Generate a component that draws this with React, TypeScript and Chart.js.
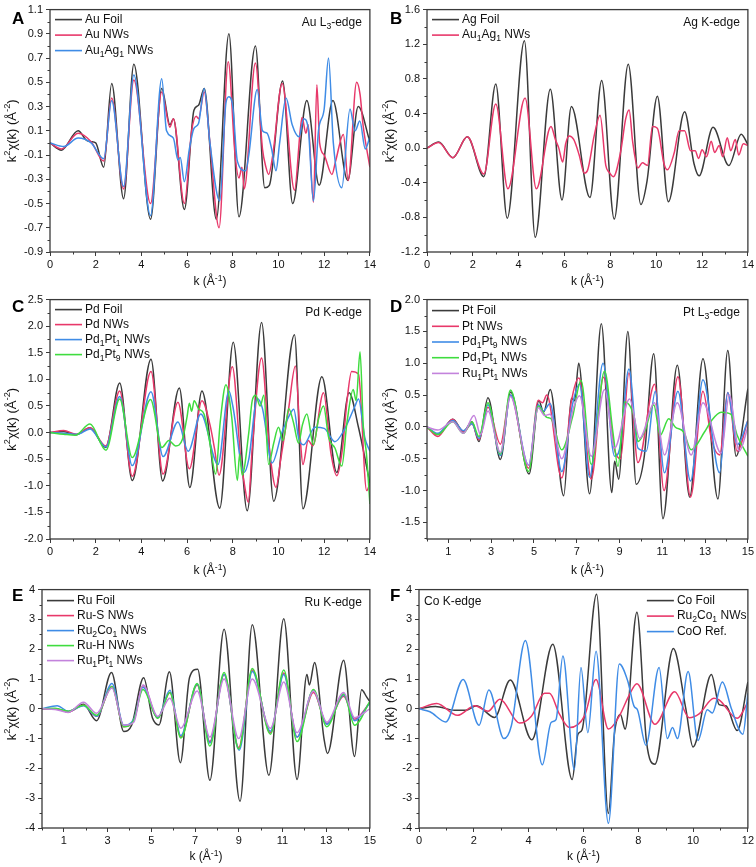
import React, { useEffect, useRef } from "react";
import { Chart, registerables } from "chart.js";
Chart.register(...registerables);

type P = [number, number];

// ---------------- DATA (k in 1/Å, k²χ(k) in Å⁻²) ----------------
// Panel A – Au L3-edge
const auFoilA: P[] = [[0,0],[0.5,-0.06],[1.23,0.10],[1.6,0.02],[1.8,0.01],[2.0,0.0],[2.35,-0.20],[2.7,0.49],[3.22,-0.46],[3.67,0.65],[4.4,-0.63],[4.89,0.45],[5.25,0.15],[5.4,0.20],[5.88,-0.55],[6.3,0.27],[6.5,0.31],[6.75,0.45],[7.28,-0.63],[7.83,0.90],[8.27,-0.61],[8.99,0.80],[9.4,-0.37],[9.6,-0.35],[10.18,0.51],[10.62,-0.50],[11.24,0.35],[11.78,-0.35],[12.38,0.35],[13.03,-0.31],[13.49,0.30],[14.0,0.01]];
const auNwA: P[] = [[0,0],[0.5,-0.05],[1.23,0.08],[1.8,0.01],[2.35,-0.15],[2.7,0.37],[3.22,-0.38],[3.67,0.52],[4.4,-0.50],[4.89,0.42],[5.25,0.13],[5.4,0.20],[5.88,-0.50],[6.2,0.10],[6.4,0.22],[6.5,0.20],[6.75,0.42],[7.0,0.0],[7.4,-0.70],[7.8,0.67],[8.1,-0.10],[8.27,-0.29],[8.4,-0.20],[8.5,-0.38],[8.99,0.66],[9.3,-0.05],[9.45,-0.20],[9.57,-0.26],[9.75,-0.10],[10.16,0.49],[10.7,-0.39],[10.95,0.10],[11.03,0.21],[11.2,0.08],[11.3,0.15],[11.53,-0.49],[11.68,0.48],[11.8,0.0],[12.0,-0.10],[12.34,-0.26],[12.5,-0.15],[12.84,0.07],[13.05,-0.31],[13.42,0.50],[13.57,0.40],[13.7,0.15],[14.0,-0.20]];
const auAgA: P[] = [[0,0],[0.6,-0.03],[1.23,0.04],[1.8,0.0],[2.35,-0.13],[2.7,0.35],[3.22,-0.36],[3.67,0.56],[4.4,-0.60],[4.89,0.53],[5.1,0.10],[5.4,0.04],[5.6,-0.14],[5.7,-0.12],[5.88,-0.32],[6.1,-0.05],[6.3,0.12],[6.5,0.16],[6.75,0.45],[7.0,0.0],[7.43,-0.48],[7.7,0.33],[7.83,0.38],[8.0,0.30],[8.2,-0.15],[8.56,-0.23],[8.7,-0.10],[9.07,0.44],[9.3,0.10],[9.5,0.08],[9.7,-0.05],[9.89,-0.23],[10.05,0.0],[10.33,0.37],[10.6,0.15],[10.9,0.05],[11.1,0.20],[11.3,0.12],[11.53,-0.48],[11.75,0.10],[12.0,0.28],[12.19,0.70],[12.4,0.0],[12.77,-0.37],[13.13,0.28],[13.35,0.10],[13.56,0.18],[13.8,-0.05],[14.0,0.05]];

// Panel B – Ag K-edge
const agFoilB: P[] = [[0,0],[0.51,0.07],[1.13,-0.11],[1.76,0.13],[2.48,-0.33],[3.0,0.74],[3.5,-0.81],[4.25,1.24],[4.72,-1.03],[5.38,0.68],[5.89,-0.60],[6.3,0.48],[7.11,-0.57],[7.62,0.78],[8.17,-0.82],[8.78,0.97],[9.33,-0.65],[9.6,-0.38],[10.05,0.60],[10.53,-0.62],[11.24,0.42],[11.65,-0.18],[11.87,-0.32],[12.48,0.24],[13.17,-0.20],[13.71,0.16],[14.0,0.04]];
const agNwB: P[] = [[0,0],[0.51,0.065],[1.13,-0.11],[1.76,0.13],[2.48,-0.30],[3.0,0.51],[3.53,-0.47],[4.28,0.58],[4.77,-0.47],[5.41,0.25],[5.6,0.10],[5.75,0.0],[5.92,-0.16],[6.05,0.05],[6.2,0.14],[6.4,0.10],[6.64,-0.08],[6.86,-0.29],[7.0,-0.26],[7.3,0.15],[7.55,0.38],[7.8,-0.20],[7.95,-0.28],[8.13,-0.33],[8.45,-0.04],[8.67,0.34],[8.82,0.44],[8.97,0.08],[9.2,-0.23],[9.4,-0.17],[9.62,-0.20],[9.84,0.25],[10.05,0.23],[10.34,-0.18],[10.49,-0.25],[10.78,-0.06],[11.0,0.20],[11.24,0.20],[11.5,-0.03],[11.7,-0.03],[11.85,-0.12],[12.0,-0.02],[12.2,-0.10],[12.4,0.08],[12.55,-0.05],[12.75,0.03],[12.9,-0.10],[13.1,0.12],[13.25,-0.03],[13.45,0.10],[13.6,-0.08],[13.8,0.05],[14.0,0.03]];

// Panel C – Pd K-edge
const pdFoilC: P[] = [[0,0],[0.6,0.02],[1.15,-0.04],[1.75,0.09],[2.44,-0.28],[3.05,0.93],[3.6,-0.90],[4.42,1.38],[4.93,-0.91],[5.66,0.84],[6.12,-1.03],[6.65,0.78],[7.43,-1.42],[8.02,1.70],[8.63,-1.47],[9.26,2.07],[9.79,-1.29],[10.70,1.84],[11.07,-1.43],[11.9,1.05],[12.55,-0.75],[13.09,0.75],[13.5,0.10],[14.0,-0.95]];
const pdNwC: P[] = [[0,0],[0.6,0.04],[1.15,-0.03],[1.75,0.09],[2.44,-0.25],[3.05,0.78],[3.6,-0.82],[4.42,1.15],[4.95,-0.78],[5.6,0.57],[6.1,-0.68],[6.65,0.60],[7.0,0.15],[7.2,-0.30],[7.4,-0.80],[7.98,1.24],[8.35,-0.50],[8.5,-0.95],[8.68,-1.31],[8.85,-0.30],[9.26,1.40],[9.6,-0.30],[9.89,-1.03],[10.1,-0.50],[10.44,0.44],[10.74,1.25],[10.95,-0.10],[11.07,-0.60],[11.3,-0.15],[11.5,-0.25],[11.97,0.75],[12.3,-0.40],[12.55,-0.81],[12.8,-0.30],[13.0,0.60],[13.2,1.15],[13.5,1.10],[13.86,-1.09],[14.0,-0.95]];
const pdPt1C: P[] = [[0,0],[0.6,-0.01],[1.2,-0.03],[1.75,0.07],[2.45,-0.27],[3.05,0.68],[3.6,-0.62],[4.42,0.77],[4.95,-0.45],[5.6,0.20],[6.05,-0.35],[6.6,0.35],[7.35,-0.60],[7.83,0.78],[8.0,0.50],[8.49,-0.75],[8.7,-0.50],[9.07,0.64],[9.3,0.45],[9.72,-0.57],[10.15,0.0],[10.45,0.30],[10.67,0.44],[10.88,-0.10],[11.1,-0.23],[11.6,0.10],[12.0,0.08],[12.47,-0.17],[12.9,0.07],[13.35,0.50],[13.5,0.63],[13.78,-0.10],[14.0,-0.35]];
const pdPt9C: P[] = [[0,0],[0.6,-0.03],[1.1,-0.05],[1.75,0.16],[2.45,-0.33],[3.05,0.63],[3.6,-0.47],[4.4,0.62],[4.9,-0.28],[5.2,-0.15],[5.5,-0.25],[5.8,-0.12],[6.0,0.30],[6.1,0.55],[6.2,0.40],[6.31,0.60],[6.5,0.45],[6.74,0.35],[7.0,-0.20],[7.25,-0.78],[7.45,0.20],[7.7,0.90],[7.95,0.30],[8.2,-0.90],[8.3,-0.40],[8.41,-0.80],[8.7,0.0],[8.85,0.60],[9.0,0.70],[9.2,0.50],[9.36,0.70],[9.57,-0.60],[9.79,-0.20],[10.0,0.10],[10.2,-0.15],[10.45,0.45],[10.65,0.20],[10.88,-0.20],[11.05,0.15],[11.24,0.35],[11.53,-0.23],[11.75,0.25],[11.97,0.50],[12.2,-0.10],[12.47,-0.29],[12.77,-0.63],[13.0,0.20],[13.27,0.81],[13.4,0.60],[13.57,1.52],[13.71,0.13],[13.85,-0.40],[14.0,-1.34]];

// Panel D – Pt L3-edge
const ptFoilD: P[] = [[0,0],[0.5,-0.12],[1.21,0.12],[1.7,-0.07],[2.1,0.08],[2.43,-0.23],[2.85,0.46],[3.43,-0.51],[3.91,0.55],[4.77,-0.74],[5.23,0.41],[5.45,0.23],[5.76,0.59],[6.39,-1.08],[6.75,0.45],[6.9,0.41],[7.09,1.0],[7.6,-1.05],[8.15,1.62],[8.64,-1.03],[8.77,-0.54],[8.96,-0.82],[9.39,1.50],[9.78,-0.90],[10.15,-0.48],[10.6,1.15],[11.03,-1.44],[11.7,0.97],[12.28,-1.10],[12.9,1.07],[13.6,-1.13],[14.06,1.20],[14.45,-0.46],[15.0,0.60]];
const ptNwD: P[] = [[0,0],[0.5,-0.15],[1.2,0.12],[1.7,-0.08],[2.1,0.05],[2.43,-0.20],[2.85,0.31],[3.43,-0.27],[3.9,0.50],[4.75,-0.65],[5.2,0.42],[5.4,0.38],[5.6,0.50],[6.3,-0.80],[6.75,0.40],[7.1,0.77],[7.68,-0.82],[8.25,0.78],[8.77,-0.36],[9.05,-0.50],[9.44,0.85],[9.86,-0.56],[10.64,0.67],[11.08,-1.0],[11.73,0.79],[12.32,-1.10],[12.9,0.56],[13.3,-0.20],[13.68,-0.44],[14.06,0.54],[14.5,-0.38],[15.0,0.10]];
const ptPd9D: P[] = [[0,0],[0.5,-0.10],[1.2,0.10],[1.7,-0.06],[2.1,0.05],[2.43,-0.18],[2.85,0.35],[3.43,-0.45],[3.91,0.50],[4.75,-0.60],[5.2,0.35],[5.45,0.25],[5.75,0.37],[6.3,-0.70],[6.8,0.35],[7.13,0.67],[7.6,-0.79],[8.23,1.0],[8.77,-0.46],[9.0,-0.35],[9.44,0.91],[9.86,-0.33],[10.25,-0.38],[10.67,0.56],[11.1,-0.72],[11.73,0.56],[12.32,-0.85],[12.9,0.74],[13.68,-0.72],[14.06,0.54],[14.5,-0.28],[15.0,0.10]];
const ptPd1D: P[] = [[0,0],[0.5,-0.12],[1.2,0.08],[1.7,-0.10],[2.1,0.08],[2.43,-0.15],[2.85,0.38],[3.43,-0.43],[3.9,0.58],[4.75,-0.70],[5.2,0.33],[5.6,0.15],[5.8,0.13],[6.3,-0.36],[6.8,0.15],[7.2,0.73],[7.68,-0.59],[8.3,0.88],[8.69,-0.08],[8.93,-0.62],[9.24,0.39],[9.7,0.13],[9.86,-0.23],[10.2,-0.05],[10.6,0.35],[10.9,-0.13],[11.3,0.13],[11.6,0.0],[12.0,-0.08],[12.35,-0.36],[12.97,-0.08],[13.3,0.10],[13.75,0.23],[14.2,0.20],[14.5,-0.13],[15.0,-0.46]];
const ptRuD: P[] = [[0,0],[0.5,-0.05],[1.2,0.08],[1.7,-0.10],[2.2,0.18],[2.5,-0.12],[2.85,0.25],[3.43,-0.40],[3.9,0.48],[4.75,-0.60],[5.2,0.30],[5.5,0.18],[5.75,0.20],[6.3,-0.50],[6.85,0.30],[7.13,0.49],[7.68,-0.46],[8.3,0.59],[8.77,-0.33],[9.47,0.44],[9.94,-0.18],[10.64,0.38],[11.1,-0.44],[11.7,0.38],[12.35,-0.44],[12.9,0.38],[13.75,-0.41],[14.13,0.50],[14.6,-0.38],[15.0,0.0]];

// Panel E – Ru K-edge
const ruFoilE: P[] = [[0,0],[0.6,0.0],[1.2,-0.10],[1.9,0.15],[2.5,-0.40],[3.18,1.22],[3.74,-0.76],[4.1,-0.55],[4.65,1.04],[5.05,-0.30],[5.35,-0.54],[5.83,1.24],[6.33,-1.81],[6.75,1.05],[7.12,1.33],[7.68,-2.40],[8.33,2.67],[9.06,-3.10],[9.62,2.82],[10.38,-2.23],[11.06,3.02],[11.67,-2.37],[12.12,1.15],[12.23,0.80],[12.47,1.55],[12.9,-1.0],[13.06,-1.50],[13.8,1.63],[14.3,-1.60],[14.62,0.64],[14.85,0.40],[15.0,0.24]];
const ruSE: P[] = [[0,0],[0.6,0.0],[1.2,-0.10],[1.9,0.12],[2.5,-0.25],[3.2,0.75],[3.74,-0.60],[4.2,-0.40],[4.62,0.78],[5.3,-0.30],[5.85,0.55],[6.35,-0.95],[7.1,0.80],[7.68,-1.10],[8.33,1.15],[9.0,-1.30],[9.62,1.30],[10.45,-0.80],[11.06,1.20],[11.67,-0.95],[12.42,0.55],[13.03,-0.50],[13.8,0.42],[14.3,-0.35],[15.0,0.20]];
const ruCoE: P[] = [[0,0],[0.7,0.10],[1.2,-0.08],[1.9,0.10],[2.5,-0.25],[3.2,0.85],[3.74,-0.55],[4.2,-0.35],[4.62,0.72],[5.3,-0.30],[5.85,0.62],[6.35,-0.90],[7.1,0.82],[7.68,-1.15],[8.33,1.15],[9.02,-1.39],[9.62,1.25],[10.45,-0.75],[11.06,1.15],[11.67,-0.95],[12.42,0.62],[13.03,-0.52],[13.8,0.46],[14.3,-0.40],[15.0,0.20]];
const ruHE: P[] = [[0,0],[0.6,0.02],[1.2,-0.08],[1.9,0.12],[2.5,-0.22],[3.2,0.75],[3.74,-0.60],[4.2,-0.38],[4.62,0.65],[5.3,-0.32],[5.85,0.55],[6.35,-0.98],[7.1,0.85],[7.68,-1.25],[8.33,1.22],[9.0,-1.35],[9.62,1.35],[10.45,-0.85],[11.06,1.30],[11.67,-1.10],[12.42,0.65],[13.03,-0.60],[13.8,0.50],[14.3,-0.55],[15.0,0.25]];
const ruPtE: P[] = [[0,0],[0.6,-0.02],[1.2,-0.12],[1.9,0.22],[2.5,-0.15],[3.2,0.70],[3.74,-0.55],[4.2,-0.45],[4.62,0.80],[5.3,-0.25],[5.85,0.35],[6.35,-0.65],[7.1,0.60],[7.68,-0.95],[8.33,1.0],[9.0,-1.0],[9.62,1.0],[10.45,-0.65],[11.06,0.90],[11.67,-0.80],[12.42,0.60],[13.03,-0.45],[13.8,0.55],[14.3,-0.30],[15.0,0.0]];

// Panel F – Co K-edge
const coFoilF: P[] = [[0,0],[0.6,0.08],[1.3,-0.05],[1.7,-0.05],[2.1,0.10],[2.76,-0.29],[3.33,0.97],[4.12,-1.04],[4.88,2.17],[5.59,-2.37],[5.8,-0.85],[5.95,-0.70],[6.48,3.84],[6.91,-3.51],[7.13,-0.84],[7.35,-0.19],[7.52,-0.68],[7.95,3.24],[8.3,-1.10],[8.61,-1.86],[9.28,2.02],[9.73,0.03],[10.0,-1.28],[10.67,1.15],[10.95,0.14],[11.2,0.10],[11.61,-0.73],[12.0,0.90]];
const coRuF: P[] = [[0,0],[0.65,0.18],[1.4,-0.22],[2.04,0.10],[2.52,-0.08],[2.95,0.32],[3.67,-0.48],[4.1,-0.25],[4.58,0.52],[4.76,0.52],[5.13,-0.19],[5.5,-0.63],[6.04,-0.24],[6.46,0.98],[6.91,-0.68],[7.31,-0.24],[7.67,0.46],[7.95,0.84],[8.61,-0.52],[9.33,0.57],[9.86,-0.30],[10.22,-0.17],[10.76,0.35],[10.95,0.30],[11.61,-0.32],[12.0,0.22]];
const coORef: P[] = [[0,0],[0.4,-0.10],[0.98,-0.44],[1.61,0.98],[2.19,-0.55],[2.55,0.63],[3.1,-1.0],[3.37,-0.57],[3.88,2.29],[4.5,-1.88],[4.82,-0.46],[5.0,-0.36],[5.25,1.77],[5.67,-2.04],[5.91,1.39],[6.16,-0.80],[6.46,1.93],[6.91,-3.84],[7.31,1.50],[7.61,0.95],[7.85,0.08],[7.97,-0.03],[8.28,-1.22],[8.76,1.39],[9.06,-1.0],[9.25,-0.63],[9.43,-1.0],[9.82,1.25],[10.18,-1.06],[10.52,-0.03],[10.7,-0.14],[11.07,0.90],[11.4,0.0],[11.82,-0.85],[12.0,0.52]];

// Tick values
const yTicksA = [-0.9, -0.7, -0.5, -0.3, -0.1, 0.1, 0.3, 0.5, 0.7, 0.9, 1.1];
const yTicksB = [-1.2, -0.8, -0.4, 0.0, 0.4, 0.8, 1.2, 1.6];
const yTicksC = [-2.0, -1.5, -1.0, -0.5, 0.0, 0.5, 1.0, 1.5, 2.0, 2.5];
const yTicksD = [-1.5, -1.0, -0.5, 0.0, 0.5, 1.0, 1.5, 2.0];
const yTicksEF = [-4, -3, -2, -1, 0, 1, 2, 3, 4];
const xTicks14 = [0, 2, 4, 6, 8, 10, 12, 14];
const xTicks15 = [1, 3, 5, 7, 9, 11, 13, 15];
const xTicks12 = [0, 2, 4, 6, 8, 10, 12];

// Labels
const labelsA = ["Au Foil", "Au NWs", "Au_{1}Ag_{1} NWs"];
const labelsB = ["Ag Foil", "Au_{1}Ag_{1} NWs"];
const labelsC = ["Pd Foil", "Pd NWs", "Pd_{1}Pt_{1} NWs", "Pd_{1}Pt_{9} NWs"];
const labelsD = ["Pt Foil", "Pt NWs", "Pd_{1}Pt_{9} NWs", "Pd_{1}Pt_{1} NWs", "Ru_{1}Pt_{1} NWs"];
const labelsE = ["Ru Foil", "Ru-S NWs", "Ru_{2}Co_{1} NWs", "Ru-H NWs", "Ru_{1}Pt_{1} NWs"];
const labelsF = ["Co Foil", "Ru_{2}Co_{1} NWs", "CoO Ref."];
const X_TITLE = "k (Å^{-1})";
const Y_TITLE = "k^{2}χ(k) (Å^{-2})";

// ---------------- STYLE ----------------
const FONT = '"Liberation Sans", Arial, Helvetica, sans-serif';
const DARK = "#3b3b3b";
const RED = "#e8386a";
const BLUE = "#3f8ce6";
const GREEN = "#3fdc3f";
const VIOLET = "#c383dc";
const AXIS = "#3a3a3a";

interface PanelCfg {
  letter: string;
  letterY: number;
  edge: string;
  edgeLeft?: boolean;
  legendRight?: boolean;
  legendDy: number;
  legendStep: number;
  labels: string[];
  colors: string[];
  series: P[][];
  xMax: number;
  xTicks: number[];
  yMin: number;
  yMax: number;
  yTicks: number[];
  yDec: number;
  w: number;
  h: number;
  left: number;
  right: number;
  top: number;
  bottomH: number;
  xTitleY: number;
}

const stripMarkup = (s: string) => s.replace(/[_^]\{([^}]*)\}/g, "$1");

function richParts(s: string) {
  const parts: { t: string; k: number }[] = [];
  const re = /([_^])\{([^}]*)\}/g;
  let last = 0;
  let m: RegExpExecArray | null;
  while ((m = re.exec(s))) {
    if (m.index > last) parts.push({ t: s.slice(last, m.index), k: 0 });
    parts.push({ t: m[2], k: m[1] === "_" ? 1 : -1 });
    last = re.lastIndex;
  }
  if (last < s.length) parts.push({ t: s.slice(last), k: 0 });
  return parts;
}

function drawRich(ctx: CanvasRenderingContext2D, s: string, x: number, y: number, size: number, align: "left" | "right" | "center") {
  const parts = richParts(s);
  const f = (sz: number) => `${sz}px ${FONT}`;
  let w = 0;
  parts.forEach((p) => {
    ctx.font = f(p.k ? size * 0.72 : size);
    w += ctx.measureText(p.t).width;
  });
  let cx = align === "right" ? x - w : align === "center" ? x - w / 2 : x;
  ctx.textAlign = "left";
  ctx.textBaseline = "middle";
  parts.forEach((p) => {
    const sz = p.k ? size * 0.72 : size;
    ctx.font = f(sz);
    ctx.fillText(p.t, cx, y + p.k * size * 0.32);
    cx += ctx.measureText(p.t).width;
  });
}

function minorBetween(ticks: number[], lo: number, hi: number) {
  const out: number[] = [];
  const step = ticks[1] - ticks[0];
  for (let v = ticks[0] - step / 2; v <= hi + 1e-9; v += step) {
    if (v >= lo - 1e-9 && !ticks.some((t) => Math.abs(t - v) < 1e-9)) out.push(v);
  }
  return out;
}

function makeDeco(cfg: PanelCfg) {
  return {
    id: "deco" + cfg.letter,
    afterDraw(chart: any) {
      const { ctx, chartArea: a } = chart;
      const xs = chart.scales.x;
      const ys = chart.scales.y;
      ctx.save();
      ctx.strokeStyle = AXIS;
      ctx.lineWidth = 1.3;
      ctx.strokeRect(a.left, a.top, a.right - a.left, a.bottom - a.top);
      ctx.lineWidth = 1;
      ctx.beginPath();
      minorBetween(cfg.xTicks, 0, cfg.xMax).forEach((v) => {
        const px = Math.round(xs.getPixelForValue(v)) + 0.5;
        ctx.moveTo(px, a.bottom);
        ctx.lineTo(px, a.bottom + 2.5);
      });
      minorBetween(cfg.yTicks, cfg.yMin, cfg.yMax).forEach((v) => {
        const py = Math.round(ys.getPixelForValue(v)) + 0.5;
        ctx.moveTo(a.left, py);
        ctx.lineTo(a.left - 2.5, py);
      });
      ctx.stroke();
      // axis titles
      ctx.fillStyle = "#111";
      drawRich(ctx, X_TITLE, (a.left + a.right) / 2, cfg.xTitleY, 12, "center");
      ctx.save();
      ctx.translate(12, (a.top + a.bottom) / 2);
      ctx.rotate(-Math.PI / 2);
      drawRich(ctx, Y_TITLE, 0, 0, 13, "center");
      ctx.restore();
      // panel letter
      ctx.fillStyle = "#000";
      ctx.font = `bold 17px ${FONT}`;
      ctx.textAlign = "left";
      ctx.textBaseline = "middle";
      ctx.fillText(cfg.letter, 12, cfg.letterY);
      // edge label
      ctx.fillStyle = "#111";
      if (cfg.edgeLeft) drawRich(ctx, cfg.edge, a.left + 5, a.top + 12, 12, "left");
      else drawRich(ctx, cfg.edge, a.right - 8, a.top + 13, 12, "right");
      // legend
      const lx = cfg.legendRight ? a.right - 101 : a.left + 5;
      cfg.labels.forEach((lab, i) => {
        const y = a.top + cfg.legendDy + i * cfg.legendStep;
        ctx.strokeStyle = cfg.colors[i];
        ctx.lineWidth = 1.6;
        ctx.beginPath();
        ctx.moveTo(lx, y);
        ctx.lineTo(lx + 27, y);
        ctx.stroke();
        ctx.fillStyle = "#111";
        drawRich(ctx, lab, lx + 30, y, 12, "left");
      });
      ctx.restore();
    },
  };
}

const W = 378;
const panels: PanelCfg[] = [
  {
    letter: "A", letterY: 19, edge: "Au L_{3}-edge", legendDy: 10, legendStep: 15.5,
    labels: labelsA, colors: [DARK, RED, BLUE], series: [auFoilA, auNwA, auAgA],
    xMax: 14, xTicks: xTicks14, yMin: -0.9, yMax: 1.1, yTicks: yTicksA, yDec: 1,
    w: W, h: 290, left: 50, right: 372, top: 7, bottomH: 38, xTitleY: 282,
  },
  {
    letter: "B", letterY: 19, edge: "Ag K-edge", legendDy: 10, legendStep: 15.5,
    labels: labelsB, colors: [DARK, RED], series: [agFoilB, agNwB],
    xMax: 14, xTicks: xTicks14, yMin: -1.2, yMax: 1.6, yTicks: yTicksB, yDec: 1,
    w: W, h: 290, left: 49, right: 371, top: 7, bottomH: 38, xTitleY: 282,
  },
  {
    letter: "C", letterY: 17, edge: "Pd K-edge", legendDy: 10, legendStep: 15,
    labels: labelsC, colors: [DARK, RED, BLUE, GREEN], series: [pdFoilC, pdNwC, pdPt1C, pdPt9C],
    xMax: 14, xTicks: xTicks14, yMin: -2.0, yMax: 2.5, yTicks: yTicksC, yDec: 1,
    w: W, h: 290, left: 50, right: 372, top: 5, bottomH: 41, xTitleY: 281,
  },
  {
    letter: "D", letterY: 17, edge: "Pt L_{3}-edge", legendDy: 11, legendStep: 15.7,
    labels: labelsD, colors: [DARK, RED, BLUE, GREEN, VIOLET], series: [ptFoilD, ptNwD, ptPd9D, ptPd1D, ptRuD],
    xMax: 15, xTicks: xTicks15, yMin: -1.76, yMax: 2.0, yTicks: yTicksD, yDec: 1,
    w: W, h: 290, left: 49, right: 370, top: 5, bottomH: 41, xTitleY: 281,
  },
  {
    letter: "E", letterY: 16, edge: "Ru K-edge", legendDy: 11, legendStep: 15,
    labels: labelsE, colors: [DARK, RED, BLUE, GREEN, VIOLET], series: [ruFoilE, ruSE, ruCoE, ruHE, ruPtE],
    xMax: 15, xTicks: xTicks15, yMin: -4, yMax: 4, yTicks: yTicksEF, yDec: 0,
    w: W, h: 287, left: 42, right: 372, top: 3, bottomH: 39, xTitleY: 277,
  },
  {
    letter: "F", letterY: 16, edge: "Co K-edge", edgeLeft: true, legendRight: true, legendDy: 11, legendStep: 15.5,
    labels: labelsF, colors: [DARK, RED, BLUE], series: [coFoilF, coRuF, coORef],
    xMax: 12, xTicks: xTicks12, yMin: -4, yMax: 4, yTicks: yTicksEF, yDec: 0,
    w: W, h: 287, left: 41, right: 371, top: 3, bottomH: 39, xTitleY: 277,
  },
];

function Panel({ cfg, x, y }: { cfg: PanelCfg; x: number; y: number }) {
  const ref = useRef<HTMLCanvasElement | null>(null);
  useEffect(() => {
    if (!ref.current) return;
    const n = cfg.series.length;
    const chart = new Chart(ref.current, {
      type: "line",
      data: {
        datasets: cfg.series.map((pts, i) => ({
          label: stripMarkup(cfg.labels[i]),
          data: pts.map(([k, v]) => ({ x: k, y: v })),
          borderColor: cfg.colors[i],
          borderWidth: 1.5,
          pointRadius: 0,
          fill: false,
          cubicInterpolationMode: "monotone" as const,
          order: n - i,
        })),
      },
      options: {
        animation: false,
        responsive: false,
        events: [],
        layout: { padding: { top: cfg.top, right: cfg.w - cfg.right, left: 0, bottom: 0 } },
        plugins: { legend: { display: false }, tooltip: { enabled: false } },
        scales: {
          x: {
            type: "linear",
            min: 0,
            max: cfg.xMax,
            afterBuildTicks: (s: any) => {
              s.ticks = cfg.xTicks.map((v) => ({ value: v }));
            },
            afterFit: (s: any) => {
              s.height = cfg.bottomH;
            },
            ticks: {
              font: { family: FONT, size: 11 },
              color: "#111",
              padding: 2,
              maxRotation: 0,
              autoSkip: false,
              callback: (v: any) => String(v),
            },
            grid: { display: true, drawOnChartArea: false, drawTicks: true, tickLength: 4, color: AXIS },
            border: { display: false },
            title: { display: false },
          },
          y: {
            type: "linear",
            min: cfg.yMin,
            max: cfg.yMax,
            afterBuildTicks: (s: any) => {
              s.ticks = cfg.yTicks.map((v) => ({ value: v }));
            },
            afterFit: (s: any) => {
              s.width = cfg.left;
            },
            ticks: {
              font: { family: FONT, size: 11 },
              color: "#111",
              padding: 3,
              autoSkip: false,
              callback: (v: any) => Number(v).toFixed(cfg.yDec),
            },
            grid: { display: true, drawOnChartArea: false, drawTicks: true, tickLength: 4, color: AXIS },
            border: { display: false },
            title: { display: false },
          },
        },
      },
      plugins: [makeDeco(cfg)],
    } as any);
    return () => chart.destroy();
  }, [cfg]);
  return (
    <canvas
      ref={ref}
      width={cfg.w}
      height={cfg.h}
      role="img"
      aria-label={`Panel ${cfg.letter}: ${stripMarkup(cfg.edge)} EXAFS k²χ(k) vs k`}
      style={{ position: "absolute", left: x, top: y, width: cfg.w, height: cfg.h }}
    />
  );
}

export default function App() {
  const pos = [
    [0, 0],
    [378, 0],
    [0, 290],
    [378, 290],
    [0, 580],
    [378, 580],
  ];
  return (
    <div style={{ position: "absolute", left: 0, top: 0, width: 756, height: 867, background: "#fff", overflow: "hidden" }}>
      {panels.map((p, i) => (
        <Panel key={p.letter} cfg={p} x={pos[i][0]} y={pos[i][1]} />
      ))}
    </div>
  );
}
